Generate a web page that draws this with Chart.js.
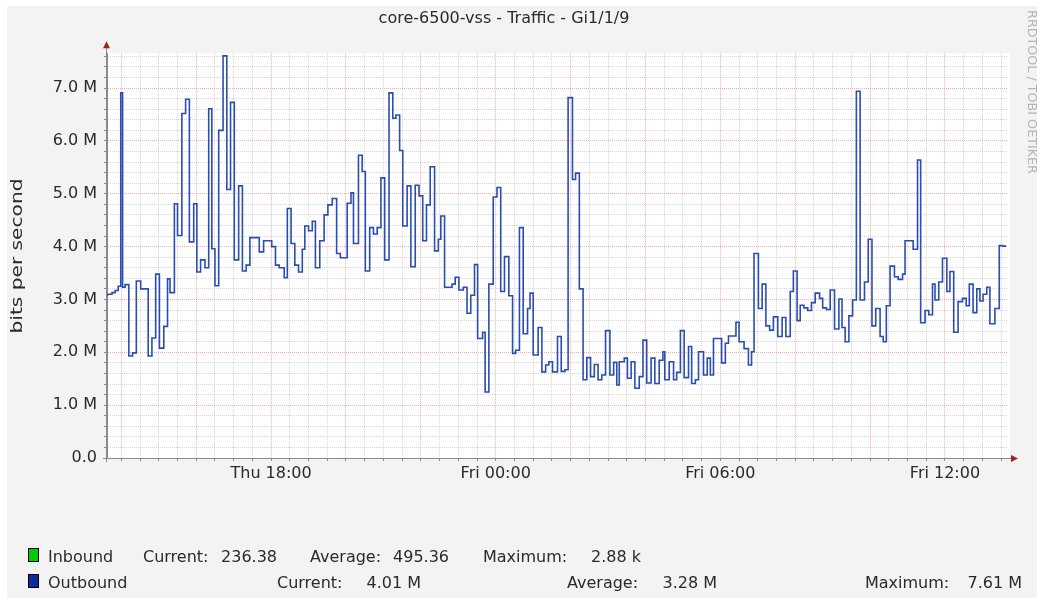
<!DOCTYPE html>
<html>
<head>
<meta charset="utf-8">
<title>core-6500-vss - Traffic - Gi1/1/9</title>
<script src="https://cdn.jsdelivr.net/npm/chart.js@4.4.1/dist/chart.umd.min.js"></script>
<style>
    html, body { margin: 0; padding: 0; background: #ffffff; }
    #wrap { width: 1040px; height: 605px; }
</style>
</head>
<body>
<div id="wrap"><canvas id="traffic" width="1040" height="605"></canvas></div>
<script>
/*global Chart:false, document:false */
"use strict";

// start of each sample, minutes after Thu 00:00
var stepTimes = [
    818, 825, 830, 835, 839, 842, 846, 852, 858, 864, 871, 883, 889, 895, 901, 908, 914, 918, 925, 930,
    937, 943, 949, 956, 961, 967, 974, 980, 985, 990, 996, 1003, 1009, 1015, 1021, 1028, 1034, 1040, 1046, 1061,
    1068, 1081, 1087, 1093, 1101, 1106, 1112, 1118, 1124, 1130, 1134, 1140, 1146, 1151, 1158, 1165, 1171, 1178,
    1185, 1191, 1202, 1208, 1212, 1220, 1226, 1231, 1238, 1244, 1250, 1256, 1262, 1269, 1275, 1280, 1286, 1291,
    1298, 1304, 1311, 1317, 1323, 1329, 1335, 1342, 1348, 1352, 1358, 1370, 1375, 1381, 1388, 1394, 1400, 1406,
    1411, 1419, 1423, 1429, 1436, 1442, 1448, 1454, 1461, 1467, 1472, 1478, 1484, 1491, 1495, 1500, 1508, 1514,
    1520, 1525, 1531, 1539,
    1545, 1551, 1556, 1563, 1568, 1574, 1580, 1586, 1592, 1598, 1604, 1610, 1616, 1623, 1629, 1634, 1638, 1646,
    1651, 1657, 1663, 1670, 1676, 1682, 1689, 1695, 1702, 1708, 1711, 1718, 1725, 1730, 1736, 1742, 1749, 1754,
    1760, 1765, 1773, 1779, 1784, 1789, 1802, 1808, 1813, 1825, 1830, 1838, 1845, 1850, 1854, 1861, 1867, 1873,
    1879, 1885, 1892, 1899,
    1905, 1912, 1917, 1923, 1928, 1934, 1940, 1946, 1952, 1959, 1964, 1970, 1976, 1983, 1990, 1995, 2000, 2006,
    2012, 2018, 2024, 2031, 2037, 2043, 2049, 2056, 2061, 2066, 2072, 2079, 2085, 2092, 2096, 2109, 2116, 2121,
    2128, 2134, 2140, 2144, 2150, 2156, 2163, 2168, 2174, 2181, 2188, 2194, 2199, 2205, 2211, 2216, 2221, 2227,
    2232, 2240, 2247, 2252, 2258
];

// outbound traffic, millions of bits per second
var outbound = [
    3.07, 3.10, 3.13, 3.17, 3.25, 6.91, 3.23, 3.28, 1.93, 1.99, 3.35, 3.20, 1.93, 2.27, 3.48, 2.08, 2.49, 3.39, 3.13, 4.81,
    4.21, 6.52, 6.79, 4.09, 4.81, 3.52, 3.75, 3.60, 6.61, 3.96, 3.26, 6.20, 7.61, 5.08, 6.73, 3.75, 5.15, 3.54, 3.65, 4.17,
    3.90, 4.11, 4.00, 3.65, 3.60, 3.41, 4.72, 4.06, 3.65, 3.52, 3.95, 4.39, 4.30, 4.48, 3.60, 4.11, 4.60, 4.79,
    4.91, 3.87, 3.79, 4.82, 5.02, 4.06, 5.73, 5.42, 3.54, 4.36, 4.24, 4.36, 5.30, 3.75, 6.91, 6.43, 6.49, 5.82,
    4.39, 5.15, 3.62, 5.16, 4.96, 4.11, 4.79, 5.51, 3.92, 4.14, 4.58, 3.23, 3.29, 3.42, 3.18, 3.23, 2.74, 3.08,
    3.66, 2.26, 2.38, 1.25, 3.29, 4.94, 5.12, 3.15, 3.81, 3.07, 1.98, 2.04, 4.36, 2.35, 2.83, 3.12, 1.95, 2.47,
    1.63, 1.76, 1.82, 1.63,
    2.30, 1.64, 1.67, 6.82, 5.27, 5.39, 3.20, 1.48, 1.90, 1.54, 1.77, 1.48, 1.57, 2.41, 1.57, 1.81, 1.38, 1.82,
    1.89, 1.51, 1.82, 1.32, 1.54, 2.23, 1.42, 1.89, 1.41, 1.85, 2.01, 1.48, 1.82, 1.48, 1.62, 2.41, 1.52, 2.11,
    1.41, 1.48, 2.01, 1.57, 1.89, 1.57, 2.26, 1.80, 2.17, 2.31, 2.57, 2.20, 2.07, 1.76, 2.01, 3.87, 2.83, 3.29,
    2.50, 2.42, 2.67, 2.30,
    2.66, 2.30, 3.15, 3.54, 2.60, 2.89, 2.84, 2.79, 2.94, 3.12, 3.02, 2.84, 2.81, 3.18, 2.44, 3.01, 2.47, 2.20,
    2.69, 2.99, 6.94, 2.99, 3.33, 4.14, 2.50, 2.83, 2.30, 2.20, 2.88, 3.63, 3.43, 3.38, 3.48, 4.11, 3.95, 5.64,
    2.56, 2.79, 2.71, 3.29, 2.99, 3.33, 3.78, 3.15, 3.53, 2.38, 2.96, 3.02, 2.88, 3.29, 2.75, 3.20, 2.97, 3.10,
    3.23, 2.54, 2.83, 4.02, 4.01
];

var dayNames = ["Thu", "Fri"];

// legend rows
var seriesNames = ["Inbound", "Outbound"];
var seriesColors = ["#00cc00", "#0a2e96"];
var currentVals = ["236.38", "4.01 M"];
var averageVals = ["495.36", "3.28 M"];
var maximumVals = ["2.88 k", "7.61 M"];

var settings = {
    font: "'DejaVu Sans', 'Liberation Sans', sans-serif",
    textColor: "#2a2a2a",
    lineColor: "#2a4db0",
    majorGrid: "rgba(240, 90, 90, 0.5)",
    minorGrid: "rgba(165, 165, 165, 0.45)",
    axisColor: "#8a8a8a",
    arrowColor: "#9b2424",
    xMin: 817,
    xMax: 2261,
    yMax: 7.66
};

// legend column positions: [label x, value right edge] per row
var legendCols = [
    [[143, 277], [310, 449], [483, 641]],
    [[277, 421], [567, 717], [865, 1022]]
];

function pad2(n) {
    return (n < 10 ? "0" : "") + n;
}

function isWhole(v) {
    return Math.abs(v - Math.round(v)) < 1e-6;
}

// background, axes arrows, rotated texts and the rrdtool style legend
var rrdDecor = {
    id: "rrdDecor",
    beforeDraw: function (chart) {
        var ctx = chart.ctx, a = chart.chartArea;
        ctx.save();
        ctx.fillStyle = "#ffffff";
        ctx.fillRect(0, 0, chart.width, chart.height);
        ctx.fillStyle = "#f3f3f3";
        ctx.fillRect(7, 6, 1030, 592);
        ctx.fillStyle = "#ffffff";
        ctx.fillRect(a.left, a.top, a.right - a.left + 2, a.bottom - a.top);
        ctx.restore();
    },
    afterDraw: function (chart) {
        var ctx = chart.ctx, a = chart.chartArea, i, j, rowY, col;
        var labels = ["Current:", "Average:", "Maximum:"];
        ctx.save();

        // axis lines running into the arrows
        ctx.strokeStyle = settings.axisColor;
        ctx.lineWidth = 1;
        ctx.beginPath();
        ctx.moveTo(a.left - 0.5, a.bottom + 4);
        ctx.lineTo(a.left - 0.5, a.top - 6);
        ctx.moveTo(a.left - 4, a.bottom + 0.5);
        ctx.lineTo(a.right + 4, a.bottom + 0.5);
        ctx.stroke();

        ctx.fillStyle = settings.arrowColor;
        ctx.beginPath();
        ctx.moveTo(a.left - 0.5, a.top - 12);
        ctx.lineTo(a.left - 4, a.top - 5);
        ctx.lineTo(a.left + 3, a.top - 5);
        ctx.closePath();
        ctx.fill();
        ctx.beginPath();
        ctx.moveTo(a.right + 10, a.bottom + 0.5);
        ctx.lineTo(a.right + 3, a.bottom - 3);
        ctx.lineTo(a.right + 3, a.bottom + 4);
        ctx.closePath();
        ctx.fill();

        // vertical axis title
        ctx.fillStyle = settings.textColor;
        ctx.font = "16px " + settings.font;
        ctx.textAlign = "center";
        ctx.textBaseline = "alphabetic";
        ctx.save();
        ctx.translate(22, 256);
        ctx.rotate(-Math.PI / 2);
        ctx.scale(1.26, 1);
        ctx.fillText("bits per second", 0, 0);
        ctx.restore();

        // watermark on the right edge
        ctx.save();
        ctx.fillStyle = "#b4b4b4";
        ctx.font = "12px " + settings.font;
        ctx.translate(1028, 92);
        ctx.rotate(Math.PI / 2);
        ctx.scale(1.06, 1);
        ctx.fillText("RRDTOOL / TOBI OETIKER", 0, 0);
        ctx.restore();

        // legend
        ctx.font = "16px " + settings.font;
        for (i = 0; i < seriesNames.length; i++) {
            rowY = 562 + i * 26;
            ctx.fillStyle = seriesColors[i];
            ctx.fillRect(28, rowY - 14, 11, 14);
            ctx.strokeStyle = "#000000";
            ctx.lineWidth = 1;
            ctx.strokeRect(28.5, rowY - 13.5, 10, 13);

            ctx.fillStyle = settings.textColor;
            ctx.textAlign = "left";
            ctx.fillText(seriesNames[i], 48, rowY);
            col = legendCols[i];
            var vals = [currentVals[i], averageVals[i], maximumVals[i]];
            for (j = 0; j < 3; j++) {
                ctx.textAlign = "left";
                ctx.fillText(labels[j], col[j][0], rowY);
                ctx.textAlign = "right";
                ctx.fillText(vals[j], col[j][1], rowY);
            }
        }
        ctx.restore();
    }
};

var points = stepTimes.map(function (t, i) {
    return {x: t, y: outbound[i]};
});

var chart = new Chart(document.getElementById("traffic").getContext("2d"), {
    type: "line",
    data: {
        datasets: [{
            label: "Outbound",
            data: points,
            stepped: "after",
            borderColor: settings.lineColor,
            borderWidth: 1.6,
            pointRadius: 0,
            fill: false
        }]
    },
    options: {
        responsive: false,
        animation: false,
        layout: {padding: {left: 0, right: 32, top: 0, bottom: 0}},
        plugins: {
            legend: {display: false},
            tooltip: {enabled: false},
            title: {
                display: true,
                text: "core-6500-vss - Traffic - Gi1/1/9",
                color: settings.textColor,
                font: {family: settings.font, size: 16, weight: "normal"},
                padding: {top: 9, bottom: 25}
            }
        },
        scales: {
            x: {
                type: "linear",
                min: settings.xMin,
                max: settings.xMax,
                afterBuildTicks: function (scale) {
                    var t = [], v;
                    for (v = 840; v <= 2250; v += 30) {
                        t.push({value: v});
                    }
                    scale.ticks = t;
                },
                afterFit: function (scale) {
                    scale.height = 147;
                },
                ticks: {
                    autoSkip: false,
                    maxRotation: 0,
                    padding: 3,
                    color: settings.textColor,
                    font: {family: settings.font, size: 16},
                    callback: function (v) {
                        if (v % 360 !== 0) {
                            return "";
                        }
                        return dayNames[Math.floor(v / 1440)] + " " + pad2(Math.floor((v % 1440) / 60)) + ":00";
                    }
                },
                grid: {
                    color: function (c) {
                        return c.tick && c.tick.value % 120 === 0 ? settings.majorGrid : settings.minorGrid;
                    },
                    tickColor: settings.axisColor,
                    tickLength: 3,
                    tickBorderDash: []
                },
                border: {display: true, color: settings.axisColor, width: 1, dash: [1, 1]}
            },
            y: {
                min: 0,
                max: settings.yMax,
                afterBuildTicks: function (scale) {
                    var t = [], i;
                    for (i = 0; i <= 38; i++) {
                        t.push({value: i / 5});
                    }
                    scale.ticks = t;
                },
                afterFit: function (scale) {
                    scale.width = 107;
                },
                ticks: {
                    autoSkip: false,
                    padding: 7,
                    color: settings.textColor,
                    font: {family: settings.font, size: 16},
                    callback: function (v) {
                        if (!isWhole(v)) {
                            return "";
                        }
                        return v === 0 ? "0.0" : v.toFixed(1) + " M";
                    }
                },
                grid: {
                    color: function (c) {
                        return c.tick && isWhole(c.tick.value) ? settings.majorGrid : settings.minorGrid;
                    },
                    tickColor: settings.axisColor,
                    tickLength: 3,
                    tickBorderDash: []
                },
                border: {display: true, color: settings.axisColor, width: 1, dash: [1, 1]}
            }
        }
    },
    plugins: [rrdDecor]
});
</script>
</body>
</html>
